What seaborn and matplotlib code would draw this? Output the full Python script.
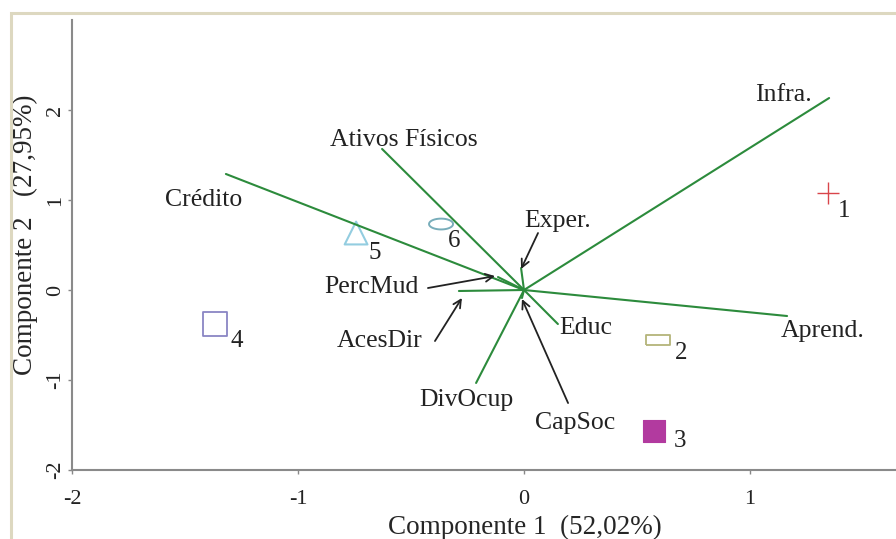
import numpy as np
import pandas as pd
import matplotlib
matplotlib.use("Agg")
import matplotlib.pyplot as plt
from matplotlib.patches import Rectangle
from matplotlib.transforms import offset_copy
import seaborn as sns

# Loadings of the variables (Componente 1, Componente 2)
variables = ["Infra.", "Aprend.", "Crédito", "Ativos Físicos", "Educ",
             "DivOcup", "AcesDir", "PercMud", "Exper.", "CapSoc"]
load_c1 = [1.350, 1.164, -1.319, -0.628, 0.150, -0.212, -0.288, -0.115, -0.013, -0.009]
load_c2 = [2.133, -0.289, 1.289, 1.567, -0.378, -1.033, -0.011, 0.144, 0.244, -0.089]

# Scores of the groups
groups = ["1", "2", "3", "4", "5", "6"]
score_c1 = [1.345, 0.593, 0.575, -1.367, -0.743, -0.367]
score_c2 = [1.078, -0.556, -1.567, -0.378, 0.633, 0.733]

# Tick labels
x_ticks = [-2, -1, 0, 1]
y_ticks = [-2, -1, 0, 1, 2]

sns.set_style("white")
plt.rcParams["font.family"] = ["Liberation Serif", "DejaVu Serif"]
plt.rcParams["text.color"] = "#222222"

fig = plt.figure(figsize=(8.96, 5.39), dpi=100)
ax = fig.add_axes([72 / 896, 69 / 539, 1 - 72 / 896, 450 / 539])

green = "#2c8b3c"

# Vectors from the origin
vec = pd.DataFrame({
    "var": np.repeat(variables, 2),
    "c1": np.ravel([[0.0, v] for v in load_c1]),
    "c2": np.ravel([[0.0, v] for v in load_c2]),
})
sns.lineplot(data=vec, x="c1", y="c2", units="var", estimator=None,
             sort=False, color=green, linewidth=1.5, ax=ax)

# Group markers
verts_rect = [(-1, -0.42), (1, -0.42), (1, 0.42), (-1, 0.42), (-1, -0.42)]
t = np.linspace(0, 2 * np.pi, 60)
verts_ell = list(zip(np.cos(t), 0.45 * np.sin(t)))
styles = {
    "1": dict(marker="+", s=260, color="#d9454a", linewidth=1.0),
    "2": dict(marker=verts_rect, s=300, facecolor="none", edgecolor="#b4b47a", linewidth=1.3),
    "3": dict(marker="s", s=240, color="#b23a9f", edgecolor="#b23a9f", linewidth=0.8),
    "4": dict(marker="s", s=290, facecolor="none", edgecolor="#8a86c4", linewidth=1.3),
    "5": dict(marker="^", s=270, facecolor="none", edgecolor="#93cde0", linewidth=1.5),
    "6": dict(marker=verts_ell, s=300, facecolor="none", edgecolor="#78adba", linewidth=1.4),
}
for g, x, y in zip(groups, score_c1, score_c2):
    sns.scatterplot(x=[x], y=[y], ax=ax, legend=False, **styles[g])

# Group numbers
num_offsets = {"1": (16, -18), "2": (23, -13), "3": (26, -10),
               "4": (22, -17), "5": (19, -20), "6": (13, -17)}
for g, x, y in zip(groups, score_c1, score_c2):
    ax.annotate(g, xy=(x, y), xytext=num_offsets[g], textcoords="offset pixels",
                ha="center", va="center", fontsize=18)

# Variable labels
label_pos = {
    "Infra.": (1.150, 2.17), "Aprend.": (1.323, -0.456), "Crédito": (-1.416, 1.0),
    "Ativos Físicos": (-0.531, 1.667), "Educ": (0.274, -0.42),
    "DivOcup": (-0.257, -1.222), "CapSoc": (0.226, -1.478),
    "PercMud": (-0.673, 0.033), "AcesDir": (-0.637, -0.567), "Exper.": (0.150, 0.767),
}
for v in variables:
    tx, ty = label_pos[v]
    ax.text(tx, ty, v, ha="center", va="center", fontsize=18.5)

# Pointer arrows for the short vectors: tail position and tip offset (pixels)
arrow_tail = {"PercMud": (-0.425, 0.022), "AcesDir": (-0.394, -0.567),
              "Exper.": (0.062, 0.633), "CapSoc": (0.195, -1.256)}
tip_shift = {"PercMud": (-3, 1), "AcesDir": (3, -7), "Exper.": (0, -1), "CapSoc": (0, -1)}
for v, x, y in zip(variables, load_c1, load_c2):
    if v not in arrow_tail:
        continue
    dx, dy = tip_shift[v]
    ax.annotate("", xy=(x, y),
                xycoords=offset_copy(ax.transData, fig=fig, x=dx, y=dy, units="dots"),
                xytext=arrow_tail[v], textcoords="data",
                arrowprops=dict(arrowstyle="->", color="#222222", lw=1.3,
                                shrinkA=0, shrinkB=0, mutation_scale=14))

ax.set_xlim(-2, 1.646)
ax.set_ylim(-2, 3)
ax.set_xticks(x_ticks)
ax.set_xticklabels([str(v) for v in x_ticks], fontsize=16)
ax.set_yticks(y_ticks)
ax.set_yticklabels([str(v) for v in y_ticks], fontsize=16, rotation=90, va="center")
ax.tick_params(axis="both", direction="out", length=3, width=1, color="#888888",
               labelcolor="#222222", bottom=True, left=True)
ax.tick_params(axis="x", pad=11.5)
ax.tick_params(axis="y", pad=2)

for side in ["top", "right"]:
    ax.spines[side].set_visible(False)
for side in ["left", "bottom"]:
    ax.spines[side].set_color("#8a8a8a")
    ax.spines[side].set_linewidth(1.5)

ax.set_xlabel("Componente 1  (52,02%)", fontsize=19.5)
ax.set_ylabel("Componente 2   (27,95%)", fontsize=19.5)
ax.xaxis.set_label_coords(0.55, -0.10)
ax.yaxis.set_label_coords(-0.041, 0.522)

# Light frame around the figure
fig.patches.append(Rectangle((11 / 896, -0.1), 1.2, 1 - 13 / 539 + 0.1,
                             transform=fig.transFigure, fill=False,
                             edgecolor="#ddd8c0", linewidth=2.2, zorder=0))

fig.savefig("out.png", dpi=100)
